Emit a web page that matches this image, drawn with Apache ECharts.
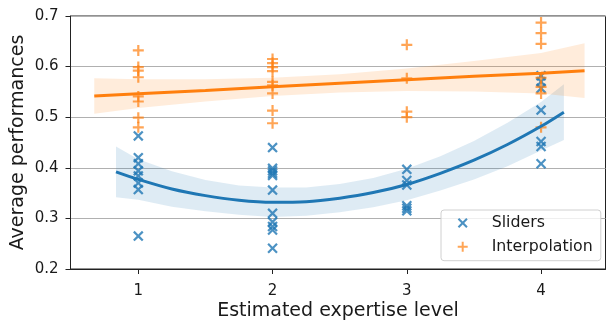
<!DOCTYPE html>
<html>
<head>
<meta charset="utf-8">
<script src="https://cdn.jsdelivr.net/npm/echarts@6/dist/echarts.min.js"></script>
<style>html,body{margin:0;padding:0;background:#fff}#c{width:608px;height:320px}</style>
</head>
<body>
<div id="c"></div>
<script>
// ---- data ----
const levels = [1, 2, 3, 4];
const xTicks = [1, 2, 3, 4];
const yTicks = [0.2, 0.3, 0.4, 0.5, 0.6, 0.7];

const slidersL1 = [0.463, 0.420, 0.408, 0.394, 0.384, 0.370, 0.357, 0.265];
const slidersL2 = [0.440, 0.399, 0.394, 0.389, 0.385, 0.356, 0.310, 0.293, 0.284, 0.277, 0.241];
const slidersL3 = [0.397, 0.375, 0.366, 0.325, 0.320, 0.315];
const slidersL4 = [0.582, 0.570, 0.557, 0.514, 0.452, 0.442, 0.408];

const interpL1 = [0.632, 0.599, 0.592, 0.579, 0.541, 0.531, 0.499, 0.480];
const interpL2 = [0.615, 0.607, 0.599, 0.591, 0.570, 0.563, 0.547, 0.513, 0.488];
const interpL3 = [0.643, 0.577, 0.511, 0.500];
const interpL4 = [0.687, 0.666, 0.645, 0.578, 0.560, 0.547, 0.480];

// fitted curve (order 2) for Sliders, with its confidence band
const slFitX  = [0.834, 1, 1.25, 1.5, 1.75, 2, 2.25, 2.5, 2.75, 3, 3.25, 3.5, 3.75, 4, 4.17];
const slFitY  = [0.392, 0.377, 0.358, 0.345, 0.336, 0.332, 0.333, 0.340, 0.351, 0.367, 0.389, 0.415, 0.446, 0.482, 0.510];
const slBandHi = [0.442, 0.417, 0.393, 0.376, 0.365, 0.361, 0.361, 0.368, 0.380, 0.398, 0.423, 0.453, 0.489, 0.530, 0.565];
const slBandLo = [0.342, 0.337, 0.323, 0.314, 0.307, 0.303, 0.305, 0.312, 0.322, 0.336, 0.355, 0.377, 0.403, 0.434, 0.455];

// linear fit for Interpolation, with its confidence band
const inFitX  = [0.672, 1, 1.5, 2, 2.5, 3, 3.5, 4, 4.324];
const inFitY  = [0.542, 0.5465, 0.553, 0.560, 0.567, 0.574, 0.581, 0.587, 0.592];
const inBandHi = [0.577, 0.575, 0.575, 0.578, 0.585, 0.596, 0.611, 0.627, 0.646];
const inBandLo = [0.507, 0.518, 0.531, 0.542, 0.549, 0.552, 0.551, 0.547, 0.538];

// ---- build chart ----
const BLUE = '#1f77b4', ORANGE = '#ff7f0e';
const X_PATH = 'path://M0,1.5 L1.5,0 L5,3.5 L8.5,0 L10,1.5 L6.5,5 L10,8.5 L8.5,10 L5,6.5 L1.5,10 L0,8.5 L3.5,5 Z';
const PLUS_PATH = 'path://M4,0 L6,0 L6,4 L10,4 L10,6 L6,6 L6,10 L4,10 L4,6 L0,6 L0,4 L4,4 Z';
const FONT = 'DejaVu Sans';

function pairs(groups) {
  const out = [];
  groups.forEach((vals, i) => vals.forEach(v => out.push([levels[i], v])));
  return out;
}
function zip(xs, ys) { return xs.map((x, i) => [x, ys[i]]); }
function band(xs, hi, lo, color) {
  return {
    type: 'custom',
    name: '_band',
    silent: true,
    data: [[xs[0], hi[0]]],
    renderItem: function (params, api) {
      const top = xs.map((x, i) => api.coord([x, hi[i]]));
      const bot = xs.map((x, i) => api.coord([x, lo[i]])).reverse();
      return { type: 'polygon', shape: { points: top.concat(bot) }, style: { fill: color, stroke: null } };
    }
  };
}

const chart = echarts.init(document.getElementById('c'), null, { renderer: 'canvas' });
chart.setOption({
  animation: false,
  backgroundColor: '#fff',
  textStyle: { fontFamily: FONT },
  grid: { left: 70.5, right: 2.5, top: 16, bottom: 51, containLabel: false, outerBoundsMode: 'none',
          show: true, borderColor: '#222', borderWidth: 1, backgroundColor: 'transparent' },
  xAxis: {
    type: 'value', min: 0.495, max: 4.48,
    name: 'Estimated expertise level', nameLocation: 'middle', nameGap: 33, nameMoveOverlap: false,
    nameTextStyle: { fontFamily: FONT, fontSize: 19, color: '#1a1a1a' },
    axisLine: { show: true, lineStyle: { color: '#222', width: 1 } },
    axisTick: { show: true, length: 5, lineStyle: { color: '#222' }, customValues: xTicks },
    axisLabel: { fontFamily: FONT, fontSize: 15, color: '#1a1a1a', margin: 15, customValues: xTicks, formatter: v => String(v) },
    splitLine: { show: false }
  },
  yAxis: {
    type: 'value', min: 0.2, max: 0.7,
    name: 'Average performances', nameLocation: 'middle', nameGap: 43, nameMoveOverlap: false,
    nameTextStyle: { fontFamily: FONT, fontSize: 19, color: '#1a1a1a' },
    axisLine: { show: true, lineStyle: { color: '#222', width: 1 } },
    axisTick: { show: true, length: 5, lineStyle: { color: '#222' }, customValues: yTicks },
    axisLabel: { fontFamily: FONT, fontSize: 15, color: '#1a1a1a', margin: 12, customValues: yTicks, formatter: v => v.toFixed(1) },
    splitLine: { show: true, lineStyle: { color: '#b0b0b0', width: 1 } }
  },
  legend: {
    show: true, orient: 'vertical', left: 441, top: 210,
    padding: [5, 8, 6, 16.7],
    itemGap: 7.7, itemWidth: 10, itemHeight: 10,
    backgroundColor: 'rgba(255,255,255,0.8)', borderColor: '#d0d0d0', borderWidth: 1, borderRadius: 3,
    textStyle: { fontFamily: FONT, fontSize: 15.8, color: '#1a1a1a', lineHeight: 16, padding: [0, 0, 0, 19] },
    data: [
      { name: 'Sliders', icon: X_PATH, itemStyle: { color: BLUE, opacity: 0.8 } },
      { name: 'Interpolation', icon: PLUS_PATH, itemStyle: { color: ORANGE, opacity: 0.7 } }
    ]
  },
  series: [
    { type: 'scatter', name: 'Sliders', data: pairs([slidersL1, slidersL2, slidersL3, slidersL4]),
      symbol: X_PATH, symbolSize: 10.5, itemStyle: { color: BLUE, opacity: 0.8 } },
    band(slFitX, slBandHi, slBandLo, 'rgba(31,119,180,0.15)'),
    { type: 'scatter', name: 'Interpolation', data: pairs([interpL1, interpL2, interpL3, interpL4]),
      symbol: PLUS_PATH, symbolSize: 11, itemStyle: { color: ORANGE, opacity: 0.7 } },
    band(inFitX, inBandHi, inBandLo, 'rgba(255,127,14,0.15)'),
    { type: 'line', name: '_slfit', data: zip(slFitX, slFitY), smooth: 0.3, symbol: 'none', silent: true,
      lineStyle: { color: BLUE, width: 3 } },
    { type: 'line', name: '_infit', data: zip(inFitX, inFitY), smooth: false, symbol: 'none', silent: true,
      lineStyle: { color: ORANGE, width: 3 } }
  ]
});
</script>
</body>
</html>
